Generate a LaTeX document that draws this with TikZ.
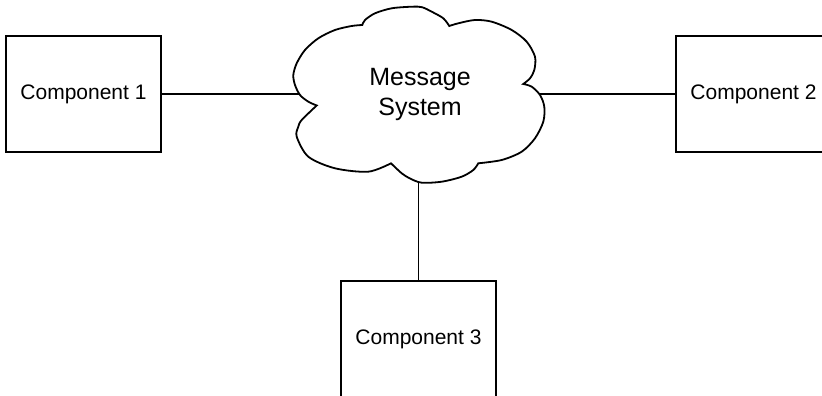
\documentclass[tikz,border=0pt]{standalone}
\usepackage{fontspec}
\setmainfont{Liberation Sans}
\usetikzlibrary{
    positioning,
    shapes.geometric,
}
\tikzstyle{component}=[draw,rectangle,line width=1.8pt,minimum width=155pt,minimum height=116pt,font=\fontsize{21}{25}\selectfont]
\tikzstyle{msgarea}=[ellipse,inner sep=0pt,minimum width=240pt,minimum height=177pt,align=center,font=\fontsize{25}{30}\selectfont]
\tikzstyle{cloudline}=[line width=1.8pt,line join=miter]
\tikzstyle{link}=[line width=1.8pt]
\tikzset{
    >=latex
}

\begin{document}
\begin{tikzpicture}[x=1pt,y=1pt]
    \useasboundingbox (0,0) rectangle (822,396);
    % Nodes
    \node[msgarea] (Message System) at (420,302) {Message\\System};
    \node[component] (Component 1) at (83.5,302) {Component 1};
    \node[component] (Component 2) at (753.5,302) {Component 2};
    \node[component] (Component 3) at (418.5,57) {Component 3};

    % Cloud outline, one smooth puff between two dents
    \draw[cloudline,shift={(Message System.center)}]
        (-103.3,-11.5)
        -- plot[smooth] coordinates {(-103.3,-11.5) (-111.7,-7.7) (-120,-1) (-125,9) (-126.7,19) (-123.3,30.7) (-115,44) (-101.7,55.7) (-85,64) (-68.3,68) (-57.7,69)}
        -- plot[smooth] coordinates {(-57.7,69) (-55,74) (-45,80.7) (-28.3,85.7) (-8,87.3) (2,86.8) (11.7,82.3) (23.3,75.7) (29.3,68)}
        -- plot[smooth] coordinates {(29.3,68) (38.3,70.7) (55,74) (71.7,72.3) (91.7,64) (106.7,52.3) (115,37.3) (114.3,24) (110,15.7) (103.3,10)}
        -- plot[smooth] coordinates {(103.3,10) (111.7,7.3) (120,-1) (124.3,-12.7) (123.3,-27.7) (115,-44.3) (101.7,-57.7) (81.7,-66) (58.3,-69.3)}
        -- plot[smooth] coordinates {(58.3,-69.3) (53.3,-76) (41.7,-82.7) (21.7,-87.7) (1.7,-88.7) (-10,-84.5) (-18.3,-79.3) (-29,-69.3)}
        -- plot[smooth] coordinates {(-29,-69.3) (-51.7,-77.7) (-85,-74.3) (-111.7,-62.7) (-123.3,-42.7) (-121.7,-32.7) (-118.3,-26) (-103.3,-11.5)}
        -- cycle;

    % Links
    \draw[link] (Component 1) -- (Message System);
    \draw[link] (Message System) -- (Component 2);
    \draw[link] (Message System.south -| Component 3.north) -- (Component 3);
\end{tikzpicture}
\end{document}
